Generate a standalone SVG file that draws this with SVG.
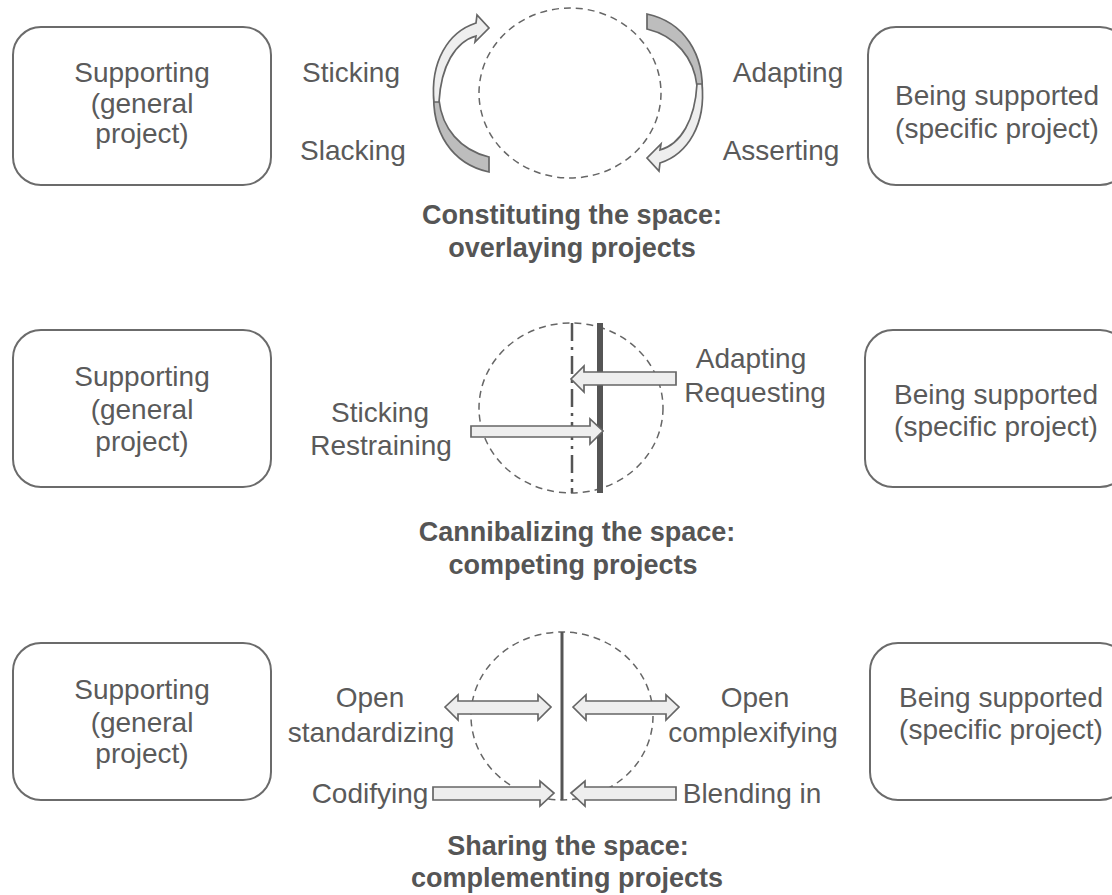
<svg xmlns="http://www.w3.org/2000/svg" width="1112" height="895" viewBox="0 0 1112 895">
  <style>
    .box { fill: #ffffff; stroke: #6b6b6b; stroke-width: 2; }
    .txt { font-family: "Liberation Sans", Arial, sans-serif; font-size: 28px; fill: #5a5a5a; text-anchor: middle; }
    .title { font-family: "Liberation Sans", Arial, sans-serif; font-size: 27px; font-weight: bold; fill: #555555; text-anchor: middle; }
    .space { fill: none; stroke: #666666; stroke-width: 1.5; stroke-dasharray: 7 5; }
    .blk { fill: #eeeeee; stroke: #666666; stroke-width: 1.7; stroke-linejoin: miter; }
    .back { fill: #bdbdbd; stroke: #666666; stroke-width: 1.7; }
  </style>
  <defs>
    <!-- curved ribbon arrow: dark underside at the tail, light face rising to the head -->
    <g id="curl">
      <path class="back" d="M 434,90 C 431,132 452,164 489,172 L 489,157 C 460,150 442,128 439,100 Z"/>
      <path class="blk" d="M 434,102 C 430,62 448,32 476,23 L 477,15 L 489,28 L 475,42 L 476,36 C 455,42 441,66 439,102 Z"/>
    </g>
  </defs>

  <!-- ===== Row 1: constituting the space ===== -->
  <g id="row1-left">
    <rect class="box" x="13" y="27" width="258" height="158" rx="28"/>
    <text class="txt" x="142" y="82">Supporting</text>
    <text class="txt" x="142" y="113">(general</text>
    <text class="txt" x="142" y="143">project)</text>
  </g>
  <g id="row1-right">
    <rect class="box" x="868" y="27" width="260" height="158" rx="28"/>
    <text class="txt" x="997" y="105">Being supported</text>
    <text class="txt" x="997" y="138">(specific project)</text>
  </g>
  <g id="row1-space">
    <ellipse class="space" cx="570" cy="93" rx="91" ry="85"/>
  </g>
  <g id="row1-connectors">
    <use href="#curl"/>
    <use href="#curl" transform="rotate(180 568 93)"/>
  </g>
  <g id="row1-labels">
    <text class="txt" x="351" y="82">Sticking</text>
    <text class="txt" x="353" y="160">Slacking</text>
    <text class="txt" x="788" y="82">Adapting</text>
    <text class="txt" x="781" y="160">Asserting</text>
    <text class="title" x="572" y="224">Constituting the space:</text>
    <text class="title" x="572" y="257">overlaying projects</text>
  </g>

  <!-- ===== Row 2: cannibalizing the space ===== -->
  <g id="row2-left">
    <rect class="box" x="13" y="330" width="258" height="157" rx="28"/>
    <text class="txt" x="142" y="386">Supporting</text>
    <text class="txt" x="142" y="419">(general</text>
    <text class="txt" x="142" y="451">project)</text>
  </g>
  <g id="row2-right">
    <rect class="box" x="865" y="330" width="263" height="157" rx="28"/>
    <text class="txt" x="996" y="404">Being supported</text>
    <text class="txt" x="996" y="436">(specific project)</text>
  </g>
  <g id="row2-space">
    <ellipse class="space" cx="571" cy="408" rx="92" ry="85"/>
    <line x1="572" y1="323" x2="572" y2="493" stroke="#555555" stroke-width="2.5" stroke-dasharray="18 6 3 6"/>
    <line x1="600" y1="323" x2="600" y2="493" stroke="#555555" stroke-width="6"/>
  </g>
  <g id="row2-connectors">
    <polygon class="blk" points="676,372 584,372 584,366 571,379 584,392 584,385 676,385"/>
    <polygon class="blk" points="471,426 590,426 590,419 603,431 590,444 590,437 471,437"/>
  </g>
  <g id="row2-labels">
    <text class="txt" x="751" y="368">Adapting</text>
    <text class="txt" x="755" y="402">Requesting</text>
    <text class="txt" x="380" y="422">Sticking</text>
    <text class="txt" x="381" y="455">Restraining</text>
    <text class="title" x="577" y="541">Cannibalizing the space:</text>
    <text class="title" x="573" y="574">competing projects</text>
  </g>

  <!-- ===== Row 3: sharing the space ===== -->
  <g id="row3-left">
    <rect class="box" x="13" y="643" width="258" height="157" rx="28"/>
    <text class="txt" x="142" y="699">Supporting</text>
    <text class="txt" x="142" y="732">(general</text>
    <text class="txt" x="142" y="763">project)</text>
  </g>
  <g id="row3-right">
    <rect class="box" x="870" y="643" width="258" height="157" rx="28"/>
    <text class="txt" x="1001" y="707">Being supported</text>
    <text class="txt" x="1001" y="739">(specific project)</text>
  </g>
  <g id="row3-space">
    <ellipse class="space" cx="562" cy="716" rx="91" ry="84"/>
    <line x1="562" y1="632" x2="562" y2="800" stroke="#555555" stroke-width="3"/>
  </g>
  <g id="row3-connectors">
    <polygon class="blk" points="445,707 458,695 458,701 538,701 538,695 551,707 538,720 538,714 458,714 458,720"/>
    <polygon class="blk" points="573,707 586,695 586,701 666,701 666,695 679,707 666,720 666,714 586,714 586,720"/>
    <polygon class="blk" points="433,787 540,787 540,781 554,793 540,806 540,800 433,800"/>
    <polygon class="blk" points="571,793 585,781 585,787 676,787 676,800 585,800 585,806"/>
  </g>
  <g id="row3-labels">
    <text class="txt" x="370" y="707">Open</text>
    <text class="txt" x="371" y="742">standardizing</text>
    <text class="txt" x="370" y="803">Codifying</text>
    <text class="txt" x="755" y="707">Open</text>
    <text class="txt" x="753" y="742">complexifying</text>
    <text class="txt" x="752" y="803">Blending in</text>
    <text class="title" x="568" y="855">Sharing the space:</text>
    <text class="title" x="567" y="887">complementing projects</text>
  </g>
</svg>
